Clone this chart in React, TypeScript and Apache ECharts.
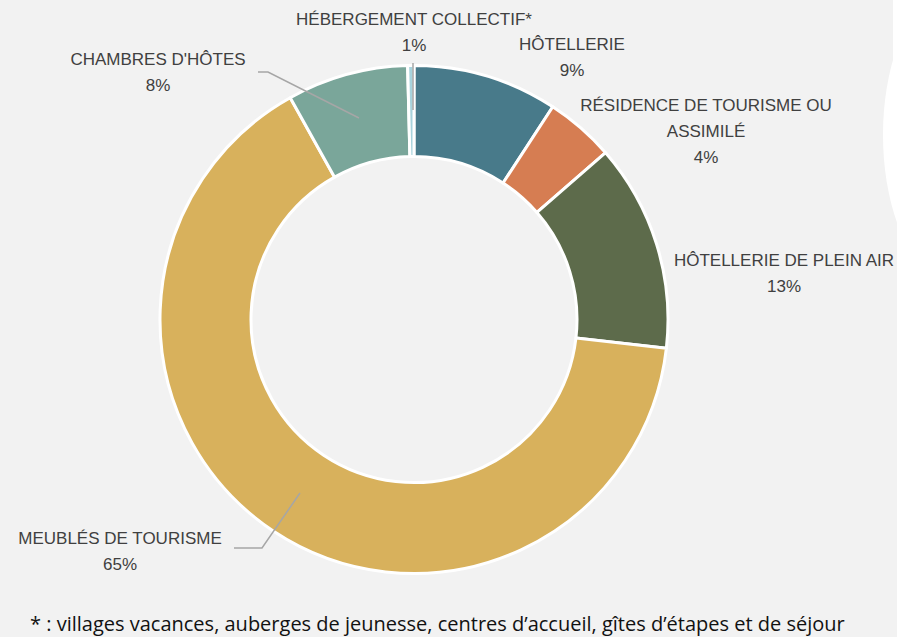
import React, { useEffect, useRef } from "react";
import * as echarts from "echarts";

const categories = [
  "HÔTELLERIE",
  "RÉSIDENCE DE TOURISME OU\nASSIMILÉ",
  "HÔTELLERIE DE PLEIN AIR",
  "MEUBLÉS DE TOURISME",
  "CHAMBRES D'HÔTES",
  "HÉBERGEMENT COLLECTIF*",
];
const shares = [9.2, 4.4, 13.2, 65.1, 7.7, 0.4];
const shareLabels = ["9%", "4%", "13%", "65%", "8%", "1%"];
const colors = ["#487a8a", "#d67d52", "#5d6b4b", "#d8b15c", "#7aa69a", "#a8d3dc"];
const showLine = [false, false, false, true, true, true];
const footnote =
  "* : villages vacances, auberges de jeunesse, centres d’accueil, gîtes d’étapes et de séjour";

const labelAnchors: number[][] = [
  [572, 57],
  [706, 131],
  [784, 273],
  [120, 551],
  [158, 72],
  [414, 32],
];
const leaderPaths: (number[][] | null)[] = [
  null,
  null,
  null,
  [[234, 548], [262, 548], [300, 493]],
  [[258, 72], [268, 72], [359, 118]],
  [[413, 63], [413, 63], [413, 110]],
];

export default function App() {
  const ref = useRef<HTMLDivElement>(null);
  useEffect(() => {
    document.body.style.margin = "0";
    const chart = echarts.init(ref.current!, undefined, { renderer: "svg" });
    const common = {
      type: "pie",
      center: [414, 319.5],
      radius: [163, 254],
      startAngle: 90,
      clockwise: true,
      avoidLabelOverlap: false,
      emphasis: { disabled: true },
    };
    chart.setOption({
      animation: false,
      backgroundColor: "#f2f2f2",
      graphic: [
        {
          type: "ellipse",
          shape: { cx: 960, cy: 135, rx: 77, ry: 152 },
          style: { fill: "#ffffff" },
          silent: true,
        },
        {
          type: "rect",
          shape: { x: 893, y: 0, width: 10, height: 80 },
          style: { fill: "#ffffff" },
          silent: true,
        },
        {
          type: "text",
          left: 30,
          top: 613,
          style: {
            text: footnote,
            fontFamily: "Open Sans",
            fontSize: 20,
            fill: "#111111",
          },
        },
      ],
      series: [
        {
          ...common,
          z: 2,
          itemStyle: { borderColor: "#ffffff", borderWidth: 3 },
          label: { show: false },
          labelLine: { show: false },
          data: shares.map((v, i) => ({
            value: v,
            name: categories[i],
            itemStyle: { color: colors[i] },
          })),
        },
        {
          ...common,
          z: 3,
          silent: true,
          itemStyle: { color: "rgba(0,0,0,0)", borderWidth: 0 },
          label: {
            show: true,
            position: "outside",
            fontFamily: "Liberation Sans",
            fontSize: 17,
            lineHeight: 26,
            color: "#404040",
            align: "center",
            formatter: (p: any) => `${categories[p.dataIndex]}\n${shareLabels[p.dataIndex]}`,
          },
          labelLine: {
            show: true,
            length: 10,
            length2: 10,
            lineStyle: { color: "#a6a6a6", width: 1.5 },
          },
          labelLayout: (p: any) => {
            const a = labelAnchors[p.dataIndex];
            const lp = leaderPaths[p.dataIndex];
            const out: any = { x: a[0], y: a[1], align: "center", verticalAlign: "middle" };
            if (lp) out.labelLinePoints = lp;
            return out;
          },
          data: shares.map((v, i) => ({
            value: v,
            name: categories[i],
            labelLine: { show: showLine[i] },
          })),
        },
      ],
    });
    return () => chart.dispose();
  }, []);
  return <div ref={ref} style={{ width: 897, height: 637 }} />;
}
